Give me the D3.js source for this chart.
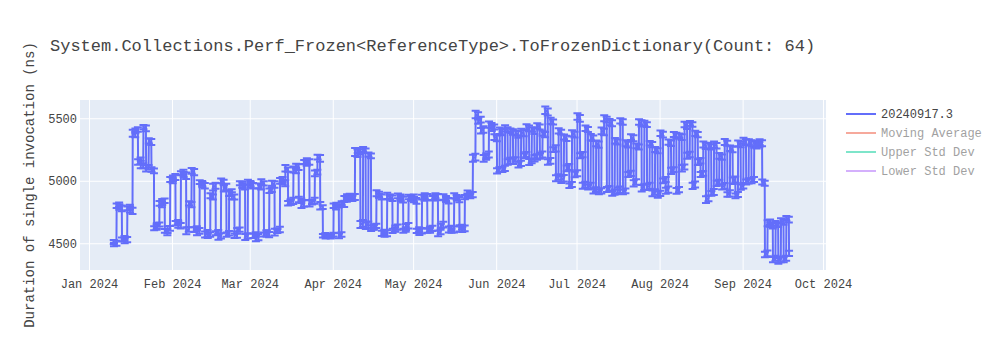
<!DOCTYPE html>
<html>
<head>
<meta charset="utf-8">
<script src="https://cdn.jsdelivr.net/npm/d3@7"></script>
<style>
  body { margin: 0; background: #fff; }
  svg { display: block; }
</style>
</head>
<body>
<svg id="chart" width="1000" height="350"></svg>
<script>
// Benchmark dates; each date has two runs, a morning and a later one
const dates = [
  "2024-01-10","2024-01-11","2024-01-12","2024-01-13","2024-01-14","2024-01-15","2024-01-16","2024-01-17","2024-01-18","2024-01-19","2024-01-20","2024-01-21","2024-01-22","2024-01-23","2024-01-24","2024-01-25","2024-01-26","2024-01-27","2024-01-28","2024-01-29","2024-01-30","2024-01-31",
  "2024-02-01","2024-02-02","2024-02-03","2024-02-04","2024-02-05","2024-02-06","2024-02-07","2024-02-08","2024-02-09","2024-02-10","2024-02-11","2024-02-12","2024-02-13","2024-02-14","2024-02-15","2024-02-16","2024-02-17","2024-02-18","2024-02-19","2024-02-20","2024-02-21","2024-02-22","2024-02-23","2024-02-24","2024-02-25","2024-02-26","2024-02-27","2024-02-28","2024-02-29",
  "2024-03-01","2024-03-02","2024-03-03","2024-03-04","2024-03-05","2024-03-06","2024-03-07","2024-03-08","2024-03-09","2024-03-10","2024-03-11","2024-03-12","2024-03-13","2024-03-14","2024-03-15","2024-03-16","2024-03-17","2024-03-18","2024-03-19","2024-03-20","2024-03-21","2024-03-22","2024-03-23","2024-03-24","2024-03-25","2024-03-26","2024-03-27","2024-03-28","2024-03-29","2024-03-30","2024-03-31",
  "2024-04-01","2024-04-02","2024-04-03","2024-04-04","2024-04-05","2024-04-06","2024-04-07","2024-04-08","2024-04-09","2024-04-10","2024-04-11","2024-04-12","2024-04-13","2024-04-14","2024-04-15","2024-04-16","2024-04-17","2024-04-18","2024-04-19","2024-04-20","2024-04-21","2024-04-22","2024-04-23","2024-04-24","2024-04-25","2024-04-26","2024-04-27","2024-04-28","2024-04-29","2024-04-30",
  "2024-05-01","2024-05-02","2024-05-03","2024-05-04","2024-05-05","2024-05-06","2024-05-07","2024-05-08","2024-05-09","2024-05-10","2024-05-11","2024-05-12","2024-05-13","2024-05-14","2024-05-15","2024-05-16","2024-05-17","2024-05-18","2024-05-19","2024-05-20","2024-05-21","2024-05-22","2024-05-23","2024-05-24","2024-05-25","2024-05-26","2024-05-27","2024-05-28","2024-05-29","2024-05-30","2024-05-31",
  "2024-06-01","2024-06-02","2024-06-03","2024-06-04","2024-06-05","2024-06-06","2024-06-07","2024-06-08","2024-06-09","2024-06-10","2024-06-11","2024-06-12","2024-06-13","2024-06-14","2024-06-15","2024-06-16","2024-06-17","2024-06-18","2024-06-19","2024-06-20","2024-06-21","2024-06-22","2024-06-23","2024-06-24","2024-06-25","2024-06-26","2024-06-27","2024-06-28","2024-06-29","2024-06-30",
  "2024-07-01","2024-07-02","2024-07-03","2024-07-04","2024-07-05","2024-07-06","2024-07-07","2024-07-08","2024-07-09","2024-07-10","2024-07-11","2024-07-12","2024-07-13","2024-07-14","2024-07-15","2024-07-16","2024-07-17","2024-07-18","2024-07-19","2024-07-20","2024-07-21","2024-07-22","2024-07-23","2024-07-24","2024-07-25","2024-07-26","2024-07-27","2024-07-28","2024-07-29","2024-07-30","2024-07-31",
  "2024-08-01","2024-08-02","2024-08-03","2024-08-04","2024-08-05","2024-08-06","2024-08-07","2024-08-08","2024-08-09","2024-08-10","2024-08-11","2024-08-12","2024-08-13","2024-08-14","2024-08-15","2024-08-16","2024-08-17","2024-08-18","2024-08-19","2024-08-20","2024-08-21","2024-08-22","2024-08-23","2024-08-24","2024-08-25","2024-08-26","2024-08-27","2024-08-28","2024-08-29","2024-08-30","2024-08-31",
  "2024-09-01","2024-09-02","2024-09-03","2024-09-04","2024-09-05","2024-09-06","2024-09-07","2024-09-08","2024-09-09","2024-09-10","2024-09-11","2024-09-12","2024-09-13","2024-09-14","2024-09-15","2024-09-16","2024-09-17","2024-09-18"
];

// UTC hour at which each of the two daily runs was recorded
const firstRunHour = 6;
const secondRunHour = 8;

// Mean duration of a single invocation (ns), first run of each date
const firstRun = [
  4510,4500,4810,4780,4540,4530,4790,4760,5370,5410,5160,5120,5420,5110,5310,5080,4630,4650,4810,4840,4590,4620,
  5000,5030,4670,4640,5070,5040,4610,4810,5070,4620,4600,4980,4960,4580,4570,4870,4960,4590,4560,4990,4950,4580,4910,4870,4570,4610,4970,4950,4560,
  4980,4960,4570,4550,4950,4980,4580,4570,4930,4970,4600,4610,5010,4980,5090,4830,4840,5080,5110,4840,4820,5140,5150,4830,4840,5070,5180,4790,4570,4560,4550,
  4570,4790,4800,4570,4810,4850,4860,4870,4870,5220,5230,4660,5240,4650,5200,4630,4640,4890,4870,4590,4580,4870,4860,4610,4630,4870,4850,4610,4640,4860,
  4870,4840,4610,4600,4860,4870,4610,4620,4870,4870,4590,4650,4860,4840,4620,4610,4870,4850,4630,4620,4880,4890,4890,5190,5520,5490,5410,5190,5210,5440,5430,
  5340,5090,5390,5100,5410,5160,5390,5170,5370,5140,5380,5210,5420,5160,5400,5190,5430,5210,5370,5550,5160,5470,5260,5030,5390,5020,5340,5110,4970,5370,
  5060,5500,5210,4970,5410,4960,5340,4930,5290,4920,5390,5490,4940,5460,4910,5310,4930,5470,4920,5290,5060,5340,4990,5270,5460,4950,5450,4960,5290,4910,5240,
  4900,5370,5010,4930,5300,5090,5360,4930,5350,5110,5440,5210,5450,4970,5370,5160,5060,5280,4860,5270,4910,5280,4990,5190,4960,5300,4900,5250,5010,4890,5290,
  4960,5310,5000,5300,5010,5280,5290,5300,4980,4420,4670,4640,4380,4650,4370,4670,4380,4690
];

// Mean duration of a single invocation (ns), second run of each date
const secondRun = [
  4490,4800,4790,4530,4520,4780,4770,5380,5400,5150,5130,5430,5100,5320,5090,4620,4640,4820,4830,4600,4610,5010,
  5020,4660,4650,5060,5050,4600,4820,5080,4610,4590,4990,4970,4570,4560,4880,4950,4580,4550,5000,4940,4570,4900,4880,4560,4600,4980,4960,4550,4990,
  4970,4560,4540,4960,4990,4570,4580,4920,4980,4590,4600,5000,4990,5100,4820,4830,5090,5120,4850,4810,5150,5160,4820,4830,5060,5190,4800,4560,4550,4560,4560,
  4800,4810,4560,4820,4860,4870,4880,4860,5230,5240,4650,5250,4640,5210,4620,4630,4900,4880,4580,4570,4880,4870,4600,4620,4880,4860,4600,4630,4870,4860,
  4850,4600,4590,4870,4880,4600,4610,4860,4880,4580,4640,4870,4850,4610,4600,4880,4860,4620,4610,4870,4900,4880,5180,5530,5480,5400,5180,5200,5450,5420,5350,
  5080,5400,5090,5420,5150,5400,5160,5380,5130,5390,5200,5430,5150,5410,5180,5440,5200,5380,5565,5150,5480,5250,5020,5400,5010,5350,5100,4960,5380,5050,
  5515,5200,4960,5420,4950,5350,4920,5300,4910,5400,5500,4930,5470,4900,5320,4920,5480,4910,5300,5050,5350,4980,5280,5470,4940,5460,4950,5300,4900,5250,4890,
  5380,5000,4920,5310,5080,5370,4920,5360,5100,5450,5200,5460,4960,5380,5150,5050,5290,4850,5280,4900,5290,4980,5200,4950,5310,4890,5260,5000,4880,5300,4950,
  5320,4990,5310,5000,5290,5300,5310,4990,4410,4660,4650,4370,4660,4360,4680,4370,4700,4420
];

// Standard error (ns) of the first run of each date
const firstRunError = [
  16,20,17,23,18,21,19,25,22,18,26,20,23,17,24,19,21,16,22,18,25,19,
  20,24,17,22,19,26,18,21,25,16,23,19,22,27,18,20,24,17,21,19,26,18,22,20,25,17,23,19,21,
  19,22,18,25,20,17,23,21,19,26,18,22,20,24,17,21,25,19,23,18,26,20,22,17,24,19,27,15,13,14,12,
  15,19,13,18,20,17,22,19,24,30,20,27,18,25,19,21,17,23,20,18,24,19,22,17,21,20,23,18,22,19,
  20,23,18,22,19,24,17,21,20,25,18,23,19,22,20,24,17,21,19,23,18,22,21,27,29,23,26,21,24,22,20,
  23,20,25,21,19,24,22,18,26,21,24,20,23,19,25,22,20,24,21,28,23,20,25,22,19,26,21,24,20,23,
  24,27,21,23,20,24,22,19,25,21,26,23,19,24,21,20,25,22,19,23,21,24,22,20,25,23,19,24,21,22,20,
  21,23,20,25,22,19,24,21,23,20,25,22,18,24,21,22,19,25,23,20,24,22,19,21,23,20,25,22,24,20,22,
  22,23,21,24,20,22,21,24,20,23,21,22,20,19,22,21,20,23
];

// Standard error (ns) of the second run of each date
const secondRunError = [
  14,18,22,16,20,15,24,28,19,22,30,17,25,21,18,16,22,19,24,15,27,20,
  22,18,25,16,20,28,17,23,19,26,15,21,24,18,20,27,16,22,19,25,17,21,28,18,23,16,20,24,19,
  21,17,24,19,22,16,25,18,20,27,15,23,19,26,18,21,24,17,22,28,16,20,25,18,23,19,30,14,12,15,13,
  18,14,20,16,19,22,17,21,32,18,28,20,26,17,22,19,24,16,21,18,25,20,17,23,19,22,16,24,18,20,
  22,17,24,19,21,16,25,18,20,23,17,22,19,24,16,21,18,25,20,17,23,19,28,30,24,22,27,20,25,21,23,
  21,26,19,24,22,18,25,20,23,27,19,22,24,18,26,21,23,20,30,22,25,19,24,21,27,20,23,18,25,22,
  26,20,24,22,19,25,21,23,18,27,24,20,25,19,22,26,21,18,24,20,23,25,19,22,26,21,24,18,23,20,25,
  22,19,24,21,25,20,23,18,26,22,24,19,25,21,23,20,24,27,22,19,25,21,23,20,24,18,22,26,19,23,21,
  24,20,22,19,25,21,23,20,22,24,19,21,18,23,20,22,19,21
];

const yTickValues = [4500, 5000, 5500];
const xTickDates = ["2024-01-01","2024-02-01","2024-03-01","2024-04-01","2024-05-01","2024-06-01","2024-07-01","2024-08-01","2024-09-01","2024-10-01"];
const legendNames = ["20240917.3", "Moving Average", "Upper Std Dev", "Lower Std Dev"];
const legendColors = ["#636efa", "#EF553B", "#00cc96", "#ab63fa"];
const legendVisible = [true, false, false, false];

const titleText = "System.Collections.Perf_Frozen<ReferenceType>.ToFrozenDictionary(Count: 64)";
const yTitleText = "Duration of single invocation (ns)";

const FONT = "'Courier New', 'Liberation Mono', monospace";
const TEXT = "#444";
const plot = { left: 80, right: 826, top: 100, bottom: 270 };

const parse = d3.utcParse("%Y-%m-%d");
const points = [];
dates.forEach((d, i) => {
  const day = parse(d);
  points.push({ date: d3.utcHour.offset(day, firstRunHour), value: firstRun[i], err: firstRunError[i] });
  points.push({ date: d3.utcHour.offset(day, secondRunHour), value: secondRun[i], err: secondRunError[i] });
});

const x = d3.scaleUtc()
  .domain([new Date(Date.UTC(2023, 11, 28, 15, 30)), new Date(Date.UTC(2024, 9, 2, 3, 0))])
  .range([plot.left, plot.right]);
const y = d3.scaleLinear()
  .domain([4286, 5646])
  .range([plot.bottom, plot.top]);

const svg = d3.select("#chart");

// Plot background
svg.append("rect")
  .attr("x", plot.left).attr("y", plot.top)
  .attr("width", plot.right - plot.left).attr("height", plot.bottom - plot.top)
  .attr("fill", "#E5ECF6");

svg.append("defs").append("clipPath").attr("id", "plot-clip")
  .append("rect")
  .attr("x", plot.left).attr("y", plot.top)
  .attr("width", plot.right - plot.left).attr("height", plot.bottom - plot.top);

// Grid lines
const xTicks = xTickDates.map(parse);
const xGrid = svg.append("g")
  .attr("transform", `translate(0,${plot.bottom})`)
  .call(d3.axisBottom(x).tickValues(xTicks).tickSize(-(plot.bottom - plot.top)).tickFormat(""));
xGrid.select(".domain").remove();
xGrid.selectAll(".tick line").attr("stroke", "#fff").attr("stroke-width", 1);

const yGrid = svg.append("g")
  .attr("transform", `translate(${plot.left},0)`)
  .call(d3.axisLeft(y).tickValues(yTickValues).tickSize(-(plot.right - plot.left)).tickFormat(""));
yGrid.select(".domain").remove();
yGrid.selectAll(".tick line").attr("stroke", "#fff").attr("stroke-width", 1);

// Tick labels
const xAxis = svg.append("g")
  .attr("transform", `translate(0,${plot.bottom})`)
  .call(d3.axisBottom(x).tickValues(xTicks).tickSize(0).tickPadding(9).tickFormat(d3.utcFormat("%b %Y")));
xAxis.select(".domain").remove();
xAxis.selectAll("text").attr("font-family", FONT).attr("font-size", 12).attr("fill", TEXT);

const yAxis = svg.append("g")
  .attr("transform", `translate(${plot.left},0)`)
  .call(d3.axisLeft(y).tickValues(yTickValues).tickSize(0).tickPadding(3).tickFormat(d3.format("d")));
yAxis.select(".domain").remove();
yAxis.selectAll("text").attr("font-family", FONT).attr("font-size", 12).attr("fill", TEXT);

// Measurements: connecting line plus error bars with caps
const series = svg.append("g").attr("clip-path", "url(#plot-clip)");
const color = legendColors[0];

series.append("g")
  .selectAll("path")
  .data(points)
  .join("path")
  .attr("d", d => {
    const cx = x(d.date), y0 = y(d.value - d.err), y1 = y(d.value + d.err);
    return `M${cx - 4},${y1}h8M${cx},${y1}V${y0}M${cx - 4},${y0}h8`;
  })
  .attr("stroke", color)
  .attr("stroke-width", 2)
  .attr("fill", "none");

series.append("path")
  .datum(points)
  .attr("d", d3.line().x(d => x(d.date)).y(d => y(d.value)))
  .attr("fill", "none")
  .attr("stroke", color)
  .attr("stroke-width", 2)
  .attr("stroke-linejoin", "round");

// Title
svg.append("text")
  .attr("x", 50).attr("y", 51)
  .attr("font-family", FONT).attr("font-size", 17).attr("fill", TEXT)
  .text(titleText);

// Y axis title
svg.append("text")
  .attr("transform", `translate(34,${(plot.top + plot.bottom) / 2}) rotate(-90)`)
  .attr("text-anchor", "middle")
  .attr("font-family", FONT).attr("font-size", 14).attr("fill", TEXT)
  .text(yTitleText);

// Legend
const items = svg.append("g").selectAll("g")
  .data(legendNames)
  .join("g")
  .attr("transform", (d, i) => `translate(846,${114 + i * 19})`)
  .attr("opacity", (d, i) => legendVisible[i] ? 1 : 0.5);
items.append("line")
  .attr("x1", 0).attr("x2", 30).attr("y1", 0).attr("y2", 0)
  .attr("stroke", (d, i) => legendColors[i])
  .attr("stroke-width", 2);
items.append("text")
  .attr("x", 35).attr("y", 0)
  .attr("dy", "0.35em")
  .attr("font-family", FONT).attr("font-size", 12).attr("fill", TEXT)
  .text(d => d);
</script>
</body>
</html>
